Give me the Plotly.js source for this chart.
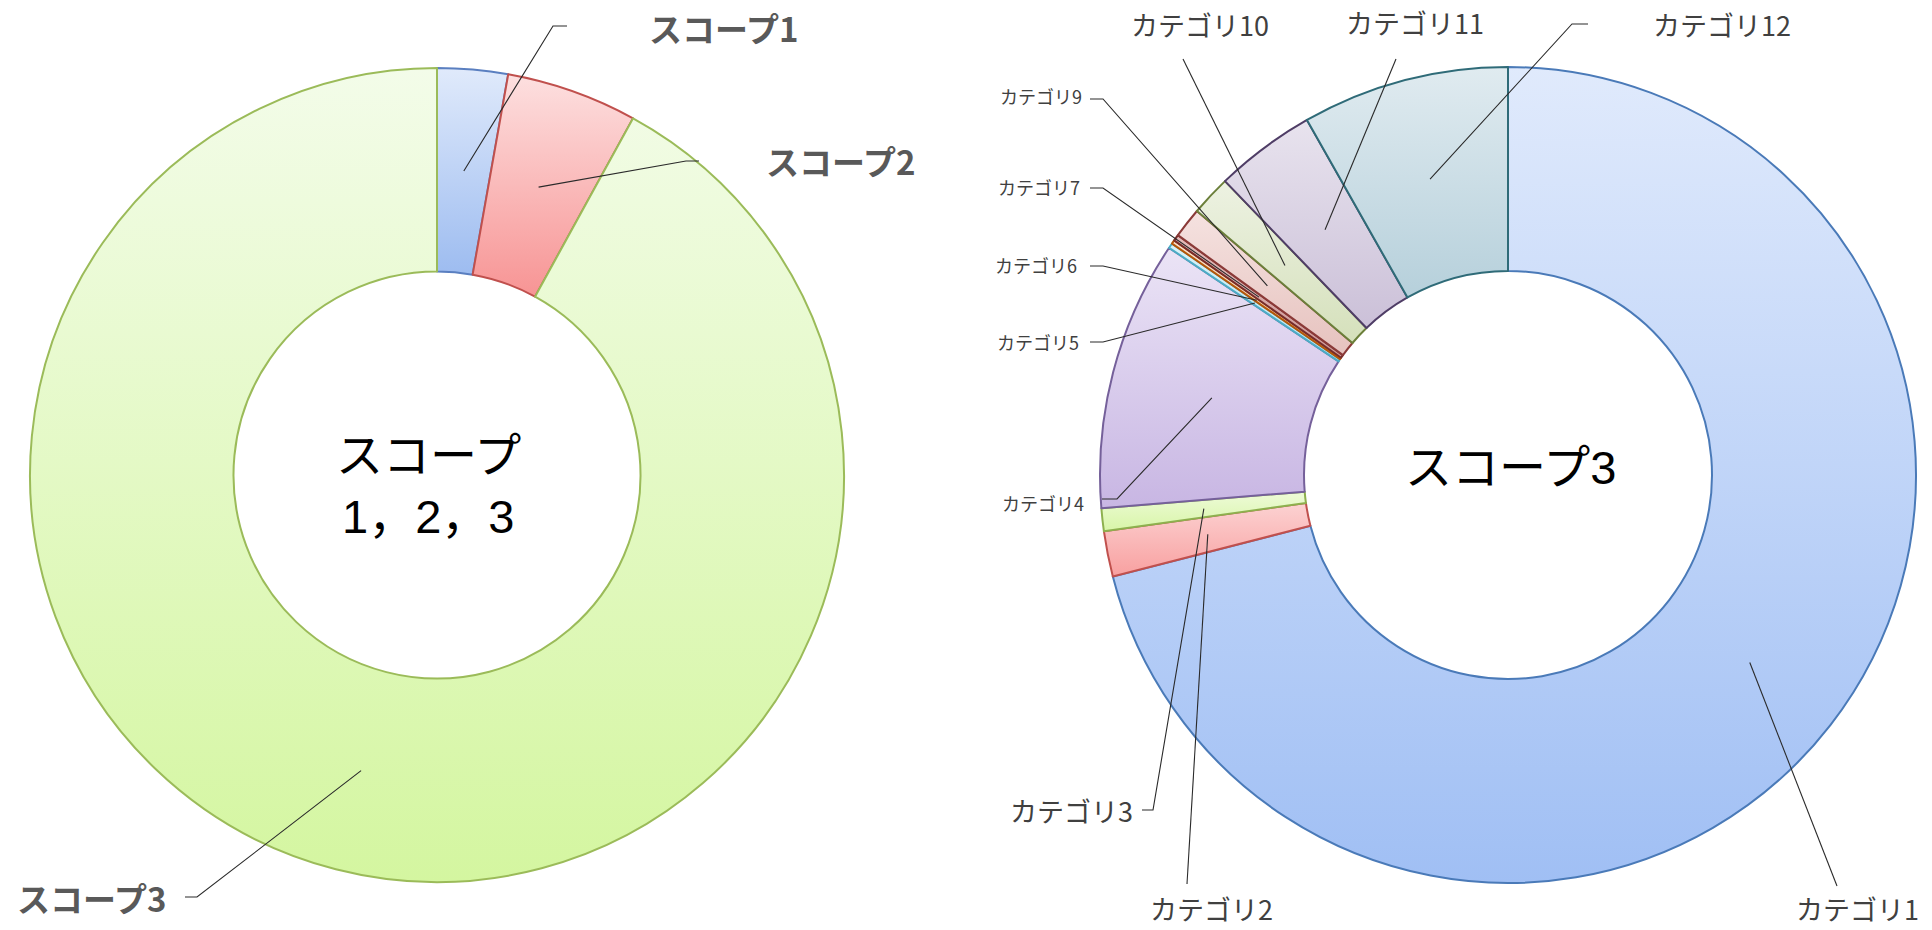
<!DOCTYPE html>
<html><head><meta charset="utf-8">
<script src="https://cdn.plot.ly/plotly-3.0.1.min.js"></script>
<style>html,body{margin:0;padding:0;background:#fff;overflow:hidden}#chart{width:1932px;height:930px}</style>
</head><body><div id="chart"></div>
<script>
// ---- data ----
const scopeLabels = ['スコープ1', 'スコープ2', 'スコープ3'];
const scopeValues = [2.8, 5.2, 92.0];
const scopeFill = ['#c3d7f7', '#fbbcbc', '#e6f9c9'];
const scopeFillTop = ['#e0eafb', '#fde0e0', '#f3fce9'];
const scopeFillBottom = ['#9dbcf0', '#f79494', '#d4f6a0'];
const scopeLine = ['#5a7fc0', '#c0504d', '#9bbb59'];

const categoryLabels = ['カテゴリ1', 'カテゴリ2', 'カテゴリ3', 'カテゴリ4', 'カテゴリ5', 'カテゴリ6',
  'カテゴリ7', 'カテゴリ9', 'カテゴリ10', 'カテゴリ11', 'カテゴリ12'];
const categoryValues = [71.0, 1.8, 0.9, 10.7, 0.2, 0.15, 0.25, 1.2, 1.6, 4.0, 8.2];
const categoryFill = ['#c4d8f8', '#fbc0c0', '#e4f8c6', '#ddd2ef', '#cdeef7', '#f3d3bd',
  '#d9a9a8', '#efd5d2', '#e3ebd2', '#dcd4e3', '#cfdfe6'];
const categoryFillTop = ['#e0eafc', '#fcd2d2', '#eefbd8', '#ebe4f6', '#d8f2f9', '#f8e0cc',
  '#e4bcbb', '#f5e2e0', '#edf2e2', '#e8e3ee', '#e0ebf0'];
const categoryFillBottom = ['#a0bff4', '#f8a0a0', '#d8f5a8', '#c8b6e3', '#b8e4f0', '#eec09c',
  '#cc9695', '#e6c2be', '#d5e0bb', '#cbc0d8', '#b6d0db'];
const categoryLine = ['#4a7ab8', '#c0504d', '#8db04e', '#75609a', '#4bacc6', '#b65708',
  '#772c2a', '#8b3a38', '#6b7f3a', '#4f3d66', '#2f6b78'];

const centerTexts = [['スコープ', '1，2，3'], ['スコープ3']];

// ---- layout constants (pixels) ----
const W = 1932, H = 930;
const pies = [
  {cx: 437, cy: 475, R: 407},
  {cx: 1508, cy: 475, R: 408}
];
const HOLE = 0.5;
// label positions [x, y], tick start, elbow (pixels)
const scopeLabelPos = [[724, 28], [841, 161], [92, 898]];
const scopeTick = [[567, 26], [699, 161], [185, 897]];
const scopeElbow = [[553, 26], [686, 161], [197, 897]];

const catLabelPos = [[1857, 908], [1211, 908], [1071, 810], [1043, 503], [1038, 342], [1036, 265],
  [1039, 187], [1041, 96], [1200, 25], [1415, 22], [1722, 25]];
const catTick = [null, null, [1142, 810], [1102, 499], [1090, 342], [1090, 266],
  [1090, 188], [1090, 99], null, null, [1588, 24]];
const catElbow = [[1837, 886], [1187, 884], [1153, 810], [1117, 499], [1103, 342], [1103, 266],
  [1103, 188], [1103, 99], [1183, 59], [1396, 59], [1572, 24]];
const catSmall = [false, false, false, true, true, true, true, true, false, false, false];

const FONT = '"Noto Sans CJK JP", "Noto Sans", sans-serif';
const CENTER_FONT = '"Liberation Sans", "Noto Sans CJK JP", sans-serif';

function domainOf(p) {
  return {
    x: [(p.cx - p.R) / W, (p.cx + p.R) / W],
    y: [(H - p.cy - p.R) / H, (H - p.cy + p.R) / H]
  };
}
function px(x) { return x / W; }
function py(y) { return 1 - y / H; }

function tips(values, p) {
  const T = values.reduce((a, b) => a + b, 0);
  let c = 0;
  const r = p.R * (1 + HOLE) / 2;
  return values.map(v => {
    const th = 2 * Math.PI * (c + v / 2) / T;
    c += v;
    return [p.cx + r * Math.sin(th), p.cy - r * Math.cos(th)];
  });
}

const traces = [
  {
    type: 'pie', labels: scopeLabels, values: scopeValues, hole: HOLE, sort: false,
    direction: 'clockwise', rotation: 0, textinfo: 'none', hoverinfo: 'label+percent',
    domain: domainOf(pies[0]),
    marker: {colors: scopeFill, line: {color: scopeLine, width: 2}}
  },
  {
    type: 'pie', labels: categoryLabels, values: categoryValues, hole: HOLE, sort: false,
    direction: 'clockwise', rotation: 0, textinfo: 'none', hoverinfo: 'label+percent',
    domain: domainOf(pies[1]),
    marker: {colors: categoryFill, line: {color: categoryLine, width: 2}}
  }
];

const shapes = [];
const annotations = [];

function addLeaders(labels, tipPts, labelPos, tick, elbow, bold, smallArr) {
  labels.forEach((lab, i) => {
    const t = tipPts[i];
    let path = '';
    if (tick[i]) path += 'M' + px(tick[i][0]) + ',' + py(tick[i][1]) + ' L' + px(elbow[i][0]) + ',' + py(elbow[i][1]);
    else path += 'M' + px(elbow[i][0]) + ',' + py(elbow[i][1]);
    path += ' L' + px(t[0]) + ',' + py(t[1]);
    shapes.push({type: 'path', xref: 'paper', yref: 'paper', path: path,
      line: {color: '#2a2a2a', width: 1.1}});
    const small = smallArr ? smallArr[i] : false;
    annotations.push({
      xref: 'paper', yref: 'paper', x: px(labelPos[i][0]), y: py(labelPos[i][1]),
      xanchor: 'center', yanchor: 'middle', showarrow: false,
      text: bold ? '<b>' + lab + '</b>' : lab,
      font: {family: FONT, size: bold ? 33 : (small ? 18 : 27), color: bold ? '#595959' : '#404040'}
    });
  });
}

addLeaders(scopeLabels, tips(scopeValues, pies[0]), scopeLabelPos, scopeTick, scopeElbow, true, null);
addLeaders(categoryLabels, tips(categoryValues, pies[1]), catLabelPos, catTick, catElbow, false, catSmall);

annotations.push({xref: 'paper', yref: 'paper', x: px(428), y: py(455), xanchor: 'center', yanchor: 'middle',
  showarrow: false, text: centerTexts[0][0], font: {family: CENTER_FONT, size: 47, color: '#000000'}});
annotations.push({xref: 'paper', yref: 'paper', x: px(428), y: py(516), xanchor: 'center', yanchor: 'middle',
  showarrow: false, text: centerTexts[0][1], font: {family: CENTER_FONT, size: 47, color: '#000000'}});
annotations.push({xref: 'paper', yref: 'paper', x: px(1510), y: py(468), xanchor: 'center', yanchor: 'middle',
  showarrow: false, text: centerTexts[1][0], font: {family: CENTER_FONT, size: 47, color: '#000000'}});

const layout = {
  width: W, height: H, margin: {l: 0, r: 0, t: 0, b: 0},
  paper_bgcolor: '#ffffff', plot_bgcolor: '#ffffff', showlegend: false,
  font: {family: FONT},
  shapes: shapes, annotations: annotations
};

function applyGradients() {
  const svg = document.querySelector('#chart .main-svg');
  if (!svg) return;
  const NS = 'http://www.w3.org/2000/svg';
  let defs = svg.querySelector('defs');
  if (!defs) { defs = document.createElementNS(NS, 'defs'); svg.insertBefore(defs, svg.firstChild); }
  const tops = [scopeFillTop, categoryFillTop];
  const bottoms = [scopeFillBottom, categoryFillBottom];
  const traceEls = document.querySelectorAll('#chart .pielayer .trace');
  traceEls.forEach((tr, ti) => {
    const slices = tr.querySelectorAll('g.slice');
    slices.forEach((sl, si) => {
      const id = 'grad_' + ti + '_' + si;
      const g = document.createElementNS(NS, 'linearGradient');
      g.setAttribute('id', id);
      g.setAttribute('x1', '0'); g.setAttribute('y1', '0');
      g.setAttribute('x2', '0'); g.setAttribute('y2', '1');
      const s1 = document.createElementNS(NS, 'stop');
      s1.setAttribute('offset', '0'); s1.setAttribute('stop-color', tops[ti][si]);
      const s2 = document.createElementNS(NS, 'stop');
      s2.setAttribute('offset', '1'); s2.setAttribute('stop-color', bottoms[ti][si]);
      g.appendChild(s1); g.appendChild(s2);
      defs.appendChild(g);
      const p = sl.querySelector('path.surface');
      if (p) p.style.fill = 'url(#' + id + ')';
    });
  });
}

Plotly.newPlot('chart', traces, layout, {displayModeBar: false, staticPlot: true}).then(applyGradients);
</script>
</body></html>
